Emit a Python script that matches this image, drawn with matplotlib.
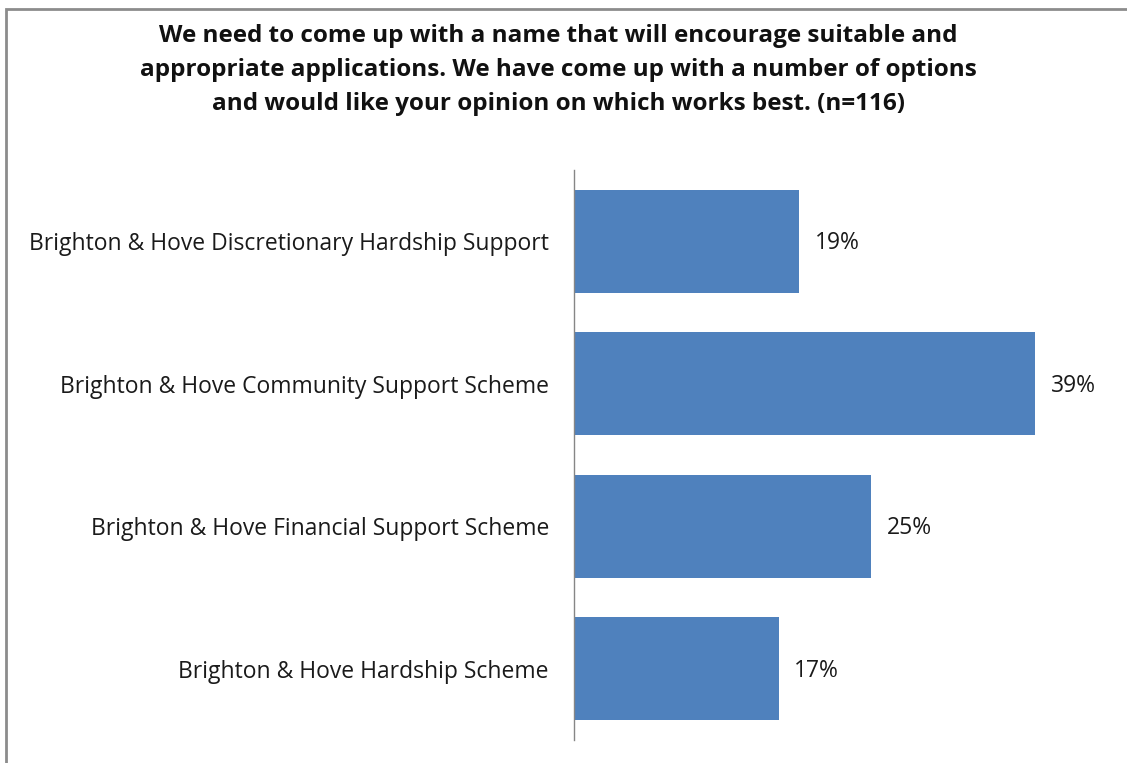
import matplotlib
matplotlib.use("Agg")
import matplotlib.pyplot as plt
from matplotlib.patches import Rectangle

# Survey results (n=116)
categories = [
    "Brighton & Hove Discretionary Hardship Support",
    "Brighton & Hove Community Support Scheme",
    "Brighton & Hove Financial Support Scheme",
    "Brighton & Hove Hardship Scheme",
]
counts = [22, 45, 29, 20]
total = 116
shares = [c / total * 100 for c in counts]
value_labels = ["19%", "39%", "25%", "17%"]

title = ("We need to come up with a name that will encourage suitable and\n"
         "appropriate applications. We have come up with a number of options\n"
         "and would like your opinion on which works best. (n=116)")

plt.rcParams["font.family"] = ["Open Sans", "DejaVu Sans"]

W, H = 1127, 763
fig = plt.figure(figsize=(W / 100, H / 100), dpi=100)
fig.patch.set_facecolor("white")

# Chart frame (runs off the right and bottom edges)
fig.patches.append(Rectangle((6 / W, -0.1), 1.2, (H - 9) / H + 0.1,
                             transform=fig.transFigure, fill=False,
                             edgecolor="#8c8c8c", linewidth=2.0, zorder=0))

ax = fig.add_axes([574 / W, 1 - 740 / H, 535 / W, 570 / H])
y = list(range(len(categories)))
ax.barh(y, shares, height=0.72, color="#4F81BD", zorder=2)
ax.set_ylim(len(categories) - 0.5, -0.5)
ax.set_xlim(0, 45)

for yi, v, lab in zip(y, shares, value_labels):
    ax.annotate(lab, (v, yi), xytext=(11, -1.5), textcoords="offset points",
                va="center", ha="left", fontsize=16.5, color="#1a1a1a")

ax.set_yticks(y)
ax.set_yticklabels(categories, fontsize=16.5, color="#1a1a1a")
ax.tick_params(axis="y", length=0, pad=18)
ax.set_xticks([])
for s in ["top", "right", "bottom"]:
    ax.spines[s].set_visible(False)
ax.spines["left"].set_color("#868686")
ax.spines["left"].set_linewidth(1.0)

fig.text(558 / W, 1 - 70 / H, title, ha="center", va="center",
         fontsize=17.5, fontweight="bold", linespacing=1.53, color="#111111")

fig.savefig("out.png", dpi=100)
